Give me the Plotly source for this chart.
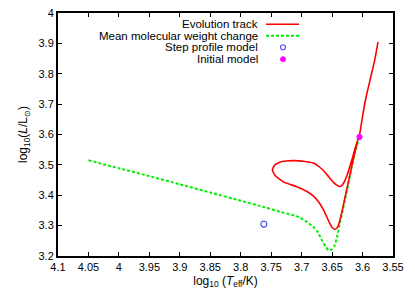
import plotly.graph_objects as go

# ---- data ----
track_teff = [3.5746, 3.580, 3.587, 3.594, 3.600, 3.6046, 3.609, 3.613, 3.617, 3.621,
              3.625, 3.629, 3.633, 3.6374, 3.643, 3.6484, 3.656, 3.665, 3.673, 3.681,
              3.6975, 3.712, 3.725, 3.736, 3.744, 3.748, 3.744, 3.730, 3.708, 3.692,
              3.681, 3.672, 3.665, 3.659, 3.654, 3.650, 3.6456, 3.642, 3.639, 3.635,
              3.632, 3.628, 3.6237, 3.6155, 3.6073]
track_lum = [3.905, 3.845, 3.785, 3.725, 3.660, 3.603, 3.575, 3.549, 3.520, 3.494,
             3.468, 3.448, 3.434, 3.429, 3.434, 3.444, 3.462, 3.483, 3.497, 3.506,
             3.512, 3.514, 3.513, 3.509, 3.500, 3.484, 3.466, 3.444, 3.428, 3.413,
             3.398, 3.378, 3.355, 3.330, 3.308, 3.294, 3.288, 3.292, 3.305, 3.335,
             3.362, 3.400, 3.439, 3.516, 3.587]

mu_teff = [4.05, 4.0, 3.95, 3.9, 3.85, 3.80, 3.76, 3.736, 3.715, 3.703, 3.692, 3.681,
           3.673, 3.667, 3.661, 3.656, 3.651, 3.6456, 3.641, 3.6374, 3.633, 3.629,
           3.621, 3.613, 3.6057]
mu_lum = [3.515, 3.489, 3.463, 3.436, 3.409, 3.382, 3.360, 3.346, 3.335, 3.327, 3.313,
          3.296, 3.277, 3.253, 3.232, 3.219, 3.221, 3.236, 3.270, 3.308, 3.345, 3.384,
          3.461, 3.538, 3.587]

step_teff = [3.762]
step_lum = [3.305]

init_teff = [3.605]
init_lum = [3.592]

x_ticks = [4.1, 4.05, 4.0, 3.95, 3.9, 3.85, 3.8, 3.75, 3.7, 3.65, 3.6, 3.55]
x_labels = ["4.1", "4.05", "4", "3.95", "3.9", "3.85", "3.8", "3.75", "3.7", "3.65", "3.6", "3.55"]
y_ticks = [3.2, 3.3, 3.4, 3.5, 3.6, 3.7, 3.8, 3.9, 4.0]
y_labels = ["3.2", "3.3", "3.4", "3.5", "3.6", "3.7", "3.8", "3.9", "4"]

legend_names = ["Evolution track", "Mean molecular weight change",
                "Step profile model", "Initial model"]

RED = "#ff0000"
GREEN = "#00ee00"
BLUE = "#5050ff"
MAGENTA = "#ff00ff"
FONT = "Liberation Sans, Arial, sans-serif"

fig = go.Figure()
fig.add_trace(go.Scatter(x=mu_teff, y=mu_lum, mode="lines",
                         line=dict(color=GREEN, width=2, dash="3px,2px", shape="spline", smoothing=0.5),
                         showlegend=False))
fig.add_trace(go.Scatter(x=track_teff, y=track_lum, mode="lines",
                         line=dict(color=RED, width=1.6, shape="spline", smoothing=0.5),
                         showlegend=False))
fig.add_trace(go.Scatter(x=step_teff, y=step_lum, mode="markers",
                         marker=dict(symbol="circle-open", size=6, color=BLUE, line=dict(width=1.2, color=BLUE)),
                         showlegend=False))
fig.add_trace(go.Scatter(x=init_teff, y=init_lum, mode="markers",
                         marker=dict(symbol="circle", size=6, color=MAGENTA),
                         showlegend=False))

# ---- manual gnuplot-style legend ----
W, H = 335.0, 243.3
def px(x): return (x - 58) / W
def py(y): return (256 - y) / H

rows = [24, 35.5, 47, 59]
for name, yy in zip(legend_names, rows):
    fig.add_annotation(x=px(260), y=py(yy), xref="paper", yref="paper", text=name,
                       showarrow=False, xanchor="right", yanchor="middle",
                       font=dict(family=FONT, size=11.5, color="black"))
fig.add_shape(type="line", xref="paper", yref="paper", x0=px(266), x1=px(299),
              y0=py(rows[0]), y1=py(rows[0]), line=dict(color=RED, width=1.6))
fig.add_shape(type="line", xref="paper", yref="paper", x0=px(266), x1=px(299),
              y0=py(rows[1]), y1=py(rows[1]), line=dict(color=GREEN, width=2, dash="3px,2px"))
r = 2.5
fig.add_shape(type="circle", xref="paper", yref="paper",
              x0=px(283 - r), x1=px(283 + r), y0=py(rows[2] + r), y1=py(rows[2] - r),
              line=dict(color=BLUE, width=1.2))
fig.add_shape(type="circle", xref="paper", yref="paper",
              x0=px(283 - r), x1=px(283 + r), y0=py(rows[3] + r), y1=py(rows[3] - r),
              line=dict(color=MAGENTA, width=1), fillcolor=MAGENTA)

axis_common = dict(showgrid=False, zeroline=False, ticks="inside", ticklen=4, tickwidth=1,
                   tickcolor="black", showline=True, linecolor="black", linewidth=2,
                   mirror="ticks", automargin=False,
                   tickfont=dict(family=FONT, size=11, color="black"))

fig.update_layout(
    width=415, height=290,
    margin=dict(l=58, r=22, t=13, b=34),
    paper_bgcolor="white", plot_bgcolor="white",
    showlegend=False,
    xaxis=dict(range=[4.1, 3.55], tickvals=x_ticks, ticktext=x_labels,
               title=dict(text="log<sub>10</sub> (<i>T</i><sub>eff</sub>/K)",
                          font=dict(family=FONT, size=12, color="black"), standoff=4),
               **axis_common),
    yaxis=dict(range=[3.2, 4.0], tickvals=y_ticks, ticktext=y_labels,
               title=dict(text="log<sub>10</sub>(<i>L</i>/L<sub>⊙</sub>)",
                          font=dict(family=FONT, size=12, color="black"), standoff=8),
               **axis_common),
)

fig.write_html("out.html", config={"displayModeBar": False},
               post_script="document.body.style.margin='0';document.documentElement.style.overflow='hidden';")
